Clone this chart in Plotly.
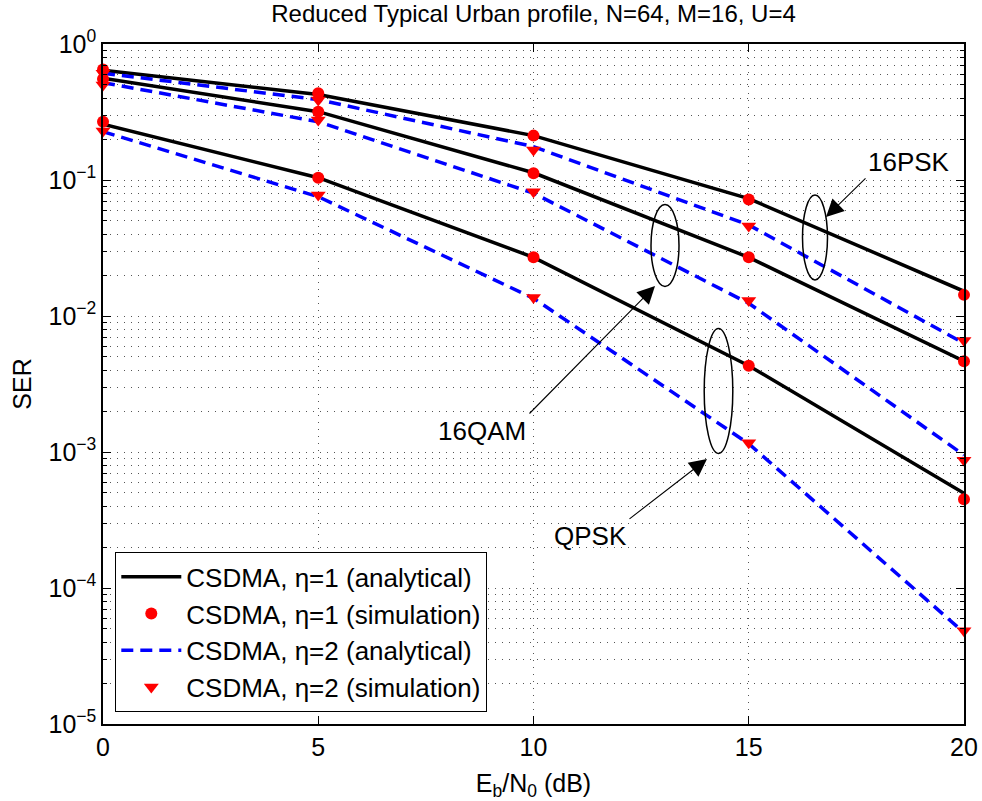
import plotly.graph_objects as go

# Eb/N0 grid (dB)
ebn0 = [0, 5, 10, 15, 20]

# 16PSK
psk16_eta1_analytical = [0.640, 0.425, 0.212, 0.0730, 0.0152]
psk16_eta1_simulation = [0.650, 0.434, 0.212, 0.0720, 0.0143]
psk16_eta2_analytical = [0.610, 0.390, 0.176, 0.0467, 0.0063]
psk16_eta2_simulation = [0.610, 0.388, 0.166, 0.0459, 0.0066]

# 16QAM
qam16_eta1_analytical = [0.560, 0.318, 0.113, 0.0270, 0.00465]
qam16_eta1_simulation = [0.553, 0.318, 0.112, 0.0270, 0.00464]
qam16_eta2_analytical = [0.520, 0.268, 0.080, 0.0124, 0.00095]
qam16_eta2_simulation = [0.500, 0.276, 0.082, 0.0130, 0.00087]

# QPSK
qpsk_eta1_analytical = [0.257, 0.104, 0.0270, 0.00431, 0.000497]
qpsk_eta1_simulation = [0.268, 0.104, 0.0270, 0.00431, 0.000449]
qpsk_eta2_analytical = [0.227, 0.0754, 0.0135, 0.00115, 0.000047]
qpsk_eta2_simulation = [0.229, 0.0776, 0.0137, 0.00117, 0.0000485]

y_tick_vals = [1, 0.1, 0.01, 0.001, 0.0001, 0.00001]
y_tick_text = ["10<sup>0</sup>", "10<sup>\u22121</sup>", "10<sup>\u22122</sup>",
               "10<sup>\u22123</sup>", "10<sup>\u22124</sup>", "10<sup>\u22125</sup>"]
x_tick_vals = [0, 5, 10, 15, 20]

label_eta1_ana = "CSDMA, \u03b7=1 (analytical)"
label_eta1_sim = "CSDMA, \u03b7=1 (simulation)"
label_eta2_ana = "CSDMA, \u03b7=2 (analytical)"
label_eta2_sim = "CSDMA, \u03b7=2 (simulation)"

FONT = "Liberation Sans, Arial, Helvetica, sans-serif"

fig = go.Figure()

eta1_curves = [psk16_eta1_analytical, qam16_eta1_analytical, qpsk_eta1_analytical]
eta2_curves = [psk16_eta2_analytical, qam16_eta2_analytical, qpsk_eta2_analytical]
eta1_points = [psk16_eta1_simulation, qam16_eta1_simulation, qpsk_eta1_simulation]
eta2_points = [psk16_eta2_simulation, qam16_eta2_simulation, qpsk_eta2_simulation]

for i, ys in enumerate(eta1_curves):
    fig.add_trace(go.Scatter(
        x=ebn0, y=ys, mode="lines", name=label_eta1_ana,
        line=dict(color="black", width=3.5),
        legendgroup="a", legendrank=1, showlegend=(i == 0)))

for i, ys in enumerate(eta2_curves):
    fig.add_trace(go.Scatter(
        x=ebn0, y=ys, mode="lines", name=label_eta2_ana,
        line=dict(color="#0000ff", width=3.5, dash="12px,7px"),
        legendgroup="c", legendrank=3, showlegend=(i == 0)))

for i, ys in enumerate(eta1_points):
    fig.add_trace(go.Scatter(
        x=ebn0, y=ys, mode="markers", name=label_eta1_sim, cliponaxis=False,
        marker=dict(symbol="circle", size=12, color="#ff0000", line=dict(width=0)),
        legendgroup="b", legendrank=2, showlegend=(i == 0)))

for i, ys in enumerate(eta2_points):
    fig.add_trace(go.Scatter(
        x=ebn0, y=ys, mode="markers", name=label_eta2_sim, cliponaxis=False,
        marker=dict(symbol="triangle-down", size=13, color="#ff0000", line=dict(width=0)),
        legendgroup="d", legendrank=4, showlegend=(i == 0)))

# plot-area geometry in pixels (for annotation placement)
W, H = 982, 801
L, R, T, B = 103, 18, 44, 77
PW, PH = W - L - R, H - T - B


def px(xp):
    return (xp - L) / PW


def py(yp):
    return (H - B - yp) / PH


shapes = []
for cx, cy, rx, ry in [(815, 237.5, 12.5, 42.5), (665, 245.5, 14, 41), (718.5, 391, 14.3, 62.5)]:
    shapes.append(dict(type="circle", xref="paper", yref="paper",
                       x0=px(cx - rx), x1=px(cx + rx), y0=py(cy + ry), y1=py(cy - ry),
                       line=dict(color="black", width=1.5), layer="above"))

annotations = []
# arrows: (tip_x, tip_y, tail_x, tail_y)
for tx, ty, sx, sy in [(826, 217, 867, 177), (655, 286, 528, 415), (707, 459, 628, 520)]:
    annotations.append(dict(x=px(tx), y=py(ty), xref="paper", yref="paper",
                            ax=sx - tx, ay=sy - ty, axref="pixel", ayref="pixel",
                            text="", showarrow=True, arrowhead=2, arrowsize=3.2,
                            arrowwidth=1.1, arrowcolor="black", standoff=0))
for label, cx, cy in [("16PSK", 909, 162), ("16QAM", 482, 431), ("QPSK", 590, 536)]:
    annotations.append(dict(x=px(cx), y=py(cy), xref="paper", yref="paper",
                            text=label, showarrow=False, xanchor="center", yanchor="middle",
                            font=dict(family=FONT, size=26, color="black")))

grid_color = "#555555"
fig.update_layout(
    width=W, height=H,
    margin=dict(l=L, r=R, t=T, b=B),
    paper_bgcolor="white", plot_bgcolor="white",
    font=dict(family=FONT, color="black", size=25),
    title=dict(text="Reduced Typical Urban profile, N=64, M=16, U=4",
               x=(L + PW / 2) / W, xanchor="center", y=1 - 14 / H, yanchor="middle",
               font=dict(family=FONT, size=24, color="black")),
    showlegend=True,
    legend=dict(x=px(115), y=py(552), xanchor="left", yanchor="top",
                bgcolor="white", bordercolor="black", borderwidth=1.3,
                font=dict(family=FONT, size=26, color="black"),
                traceorder="grouped", tracegroupgap=0, itemwidth=60),
    shapes=shapes,
    annotations=annotations,
)

fig.update_xaxes(
    range=[0, 20], tickvals=x_tick_vals, ticks="inside", ticklen=8, tickwidth=1,
    tickcolor="black", showline=True, linecolor="black", linewidth=1.5, mirror="ticks",
    showgrid=True, gridcolor=grid_color, gridwidth=1, griddash="1px,6px",
    zeroline=False, automargin=False, tickfont=dict(family=FONT, size=25),
    title=dict(text="E<sub>b</sub>/N<sub>0</sub> (dB)", standoff=20,
               font=dict(family=FONT, size=25)))

fig.update_yaxes(
    type="log", range=[-5, 0], tickvals=y_tick_vals, ticktext=y_tick_text,
    ticks="inside", ticklen=8, tickwidth=1, tickcolor="black",
    showline=True, linecolor="black", linewidth=1.5, mirror="ticks",
    showgrid=True, gridcolor=grid_color, gridwidth=1, griddash="1px,6px",
    zeroline=False, automargin=False, tickfont=dict(family=FONT, size=25),
    minor=dict(ticks="inside", ticklen=4, tickcolor="black", dtick="D1",
               showgrid=True, gridcolor=grid_color, gridwidth=1, griddash="1px,6px"),
    title=dict(text="SER", standoff=10, font=dict(family=FONT, size=25)))

fig.write_html("out.html")
